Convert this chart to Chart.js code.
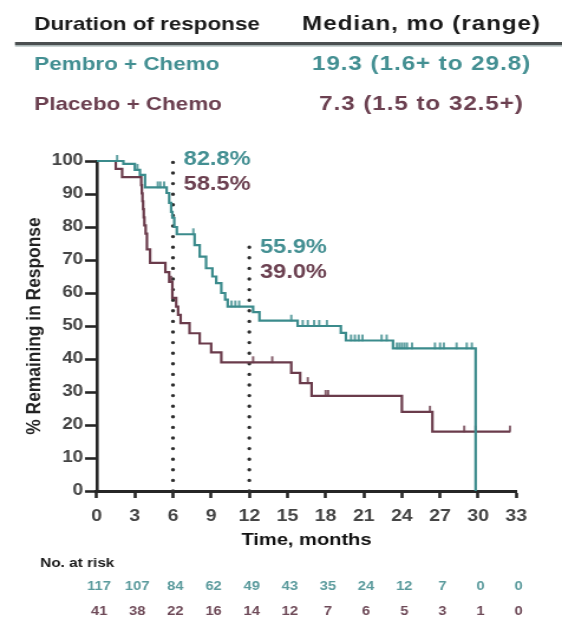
<!DOCTYPE html>
<html>
<head>
<meta charset="utf-8">
<title>Duration of response</title>
<script src="https://cdn.jsdelivr.net/npm/chart.js@4.4.1/dist/chart.umd.min.js"></script>
<style>
  html, body { margin: 0; padding: 0; background: #fff; overflow: hidden; }
  /* the artwork uses a horizontally widened sans face; emulate it with a uniform x-stretch */
  #stage { position: relative; width: 476px; height: 624px; transform: scaleX(1.1807); transform-origin: 0 0; }
  #km { display: block; }
</style>
</head>
<body>
<div id="stage"><canvas id="km" width="476" height="624"></canvas></div>
<script>
// ---- data -------------------------------------------------------------
const monthTicks = [0, 3, 6, 9, 12, 15, 18, 21, 24, 27, 30, 33];
const percentTicks = [0, 10, 20, 30, 40, 50, 60, 70, 80, 90, 100];

const armNames = ['Pembro + Chemo', 'Placebo + Chemo'];
const medianText = ['19.3 (1.6+ to 29.8)', '7.3 (1.5 to 32.5+)'];

// Kaplan–Meier steps: time (months) and % remaining in response after each event
const pembroTimes = [0, 2.1, 3.0, 3.4, 3.8, 5.5, 5.7, 5.85, 5.95, 6.1, 6.3, 7.7, 8.1, 8.6, 9.1, 9.4, 9.8, 10.1, 10.3, 12.3, 12.8, 15.8, 19.2, 19.6, 23.3, 29.8];
const pembroSurv  = [100, 99.1, 97.3, 95.8, 92.0, 90.3, 87.3, 84.6, 82.8, 80.0, 77.8, 74.5, 71.0, 67.5, 65.0, 63.0, 60.0, 58.0, 55.9, 54.2, 51.6, 50.0, 47.9, 45.6, 43.2, 0];
const placeboTimes = [0, 1.5, 2.0, 3.5, 3.55, 3.6, 3.65, 3.7, 3.75, 3.85, 3.95, 4.2, 5.4, 5.7, 5.95, 6.25, 6.4, 6.6, 7.3, 8.1, 9.0, 9.8, 15.3, 16.0, 16.9, 24.0, 26.4, 32.5];
const placeboSurv  = [100, 97.6, 95.1, 92.7, 90.2, 87.8, 85.4, 82.9, 80.5, 78.0, 73.2, 69.1, 66.3, 63.4, 58.5, 55.9, 53.4, 50.9, 47.8, 44.7, 42.0, 39.0, 35.8, 32.7, 28.8, 24.0, 18.0, 18.0];

// censored observations (months)
const pembroCensored = [1.6, 3.2, 4.8, 5.0, 5.3, 7.6, 10.6, 10.9, 11.2, 15.3, 16.2, 16.6, 17.1, 17.5, 18.1, 20.0, 20.3, 20.6, 20.9, 22.4, 22.8, 23.6, 23.8, 24.0, 24.2, 24.4, 24.8, 26.6, 27.0, 27.3, 28.3, 29.1, 29.5];
const placeboCensored = [5.85, 12.3, 13.8, 16.6, 18.0, 18.2, 26.2, 28.9, 29.8, 32.5];

// landmark time points and the height of their dotted guides (% scale)
const landmarkMonths = [6, 12];
const landmarkTop = [102.5, 76];

// number at risk at each month tick
const pembroAtRisk  = [117, 107, 84, 62, 49, 43, 35, 24, 12, 7, 0, 0];
const placeboAtRisk = [41, 38, 22, 16, 14, 12, 7, 6, 5, 3, 1, 0];

// ---- styling ------------------------------------------------------------
const FONT = "'Liberation Sans', Arial, Helvetica, sans-serif";
const TEAL = '#3b8b8c';
const TEAL_TEXT = '#438f92';
const MAROON = '#6a3b4b';
const MAROON_TEXT = '#6b4050';
const INK = '#262626';
const STAGE_W = 476;

Chart.defaults.font.family = FONT;

function survivalAt(times, surv, t) {
  let v = surv[0];
  for (let i = 0; i < times.length; i++) if (times[i] <= t) v = surv[i];
  return v;
}
function toPoints(times, surv) {
  return times.map((t, i) => ({ x: t, y: surv[i] }));
}
function censorPoints(cens, times, surv) {
  return cens.map(t => ({ x: t, y: survivalAt(times, surv, t) }));
}
// small upright tick used for censored observations
function tickGlyph(color) {
  const c = document.createElement('canvas');
  c.width = 4; c.height = 14;
  const g = c.getContext('2d');
  g.strokeStyle = color; g.lineWidth = 1.6;
  g.beginPath(); g.moveTo(2, 1); g.lineTo(2, 7.5); g.stroke();
  return c;
}
function landmarkLine(i) {
  return {
    data: [{ x: landmarkMonths[i], y: 0 }, { x: landmarkMonths[i], y: landmarkTop[i] }],
    borderColor: '#2e2e2e', borderWidth: 3.4, borderDash: [0, 10.6], borderCapStyle: 'round',
    pointRadius: 0, clip: false, fill: false
  };
}

// header, landmark percentages and the number-at-risk table
const overlay = {
  id: 'overlay',
  afterDraw(chart) {
    const { ctx } = chart;
    const xs = chart.scales.x, ys = chart.scales.y;
    ctx.save();

    // header table: left column names, right column medians
    const left = `bold 19px ${FONT}`, right = `bold 20.5px ${FONT}`, colX = 357;
    const writeLeft = (txt, y) => { ctx.font = left; ctx.letterSpacing = '0px'; ctx.textAlign = 'left'; ctx.fillText(txt, 29, y); };
    const writeRight = (txt, y) => { ctx.font = right; ctx.letterSpacing = '0.8px'; ctx.textAlign = 'center'; ctx.fillText(txt, colX, y); };
    ctx.textBaseline = 'alphabetic';
    ctx.fillStyle = '#1a1a1a';
    writeLeft('Duration of response', 30);
    writeRight('Median, mo (range)', 30);
    ctx.fillStyle = '#4b4f50';
    ctx.fillRect(12.7, 42, STAGE_W, 3);
    ctx.fillStyle = '#a9b6b6';
    ctx.fillRect(12.7, 45, STAGE_W, 1.6);

    ctx.fillStyle = TEAL_TEXT;
    writeLeft(armNames[0], 70);
    writeRight(medianText[0], 70);
    ctx.fillStyle = MAROON_TEXT;
    writeLeft(armNames[1], 110);
    writeRight(medianText[1], 110);
    ctx.letterSpacing = '0px';

    // landmark percentages
    ctx.font = `bold 20px ${FONT}`;
    ctx.textAlign = 'left';
    ctx.textBaseline = 'middle';
    landmarkMonths.forEach((m, i) => {
      const x = xs.getPixelForValue(m) + 9;
      const top = ys.getPixelForValue(landmarkTop[i]);
      ctx.fillStyle = TEAL_TEXT;
      ctx.fillText(survivalAt(pembroTimes, pembroSurv, m).toFixed(1) + '%', x, top + 7);
      ctx.fillStyle = MAROON_TEXT;
      ctx.fillText(survivalAt(placeboTimes, placeboSurv, m).toFixed(1) + '%', x, top + 32);
    });

    // number at risk
    ctx.font = `bold 13px ${FONT}`;
    ctx.fillStyle = '#1a1a1a';
    ctx.textAlign = 'left';
    ctx.fillText('No. at risk', 34, 563);
    ctx.font = `bold 12.5px ${FONT}`;
    ctx.textAlign = 'center';
    monthTicks.forEach((m, i) => {
      const x = xs.getPixelForValue(m);
      ctx.fillStyle = '#5a9a9c';
      ctx.fillText(String(pembroAtRisk[i]), x + 2, 587);
      ctx.fillStyle = '#6e4a58';
      ctx.fillText(String(placeboAtRisk[i]), x + 2, 612);
    });
    ctx.restore();
  }
};

new Chart(document.getElementById('km'), {
  type: 'line',
  data: {
    datasets: [
      { label: armNames[0], data: toPoints(pembroTimes, pembroSurv), stepped: 'before',
        borderColor: TEAL, borderWidth: 2.2, pointRadius: 0, fill: false, clip: 8 },
      { label: armNames[1], data: toPoints(placeboTimes, placeboSurv), stepped: 'before',
        borderColor: MAROON, borderWidth: 2.2, pointRadius: 0, fill: false, clip: 8 },
      { label: 'censored', data: censorPoints(pembroCensored, pembroTimes, pembroSurv), showLine: false,
        pointStyle: tickGlyph(TEAL), pointRadius: 4, clip: 8 },
      { label: 'censored', data: censorPoints(placeboCensored, placeboTimes, placeboSurv), showLine: false,
        pointStyle: tickGlyph(MAROON), pointRadius: 4, clip: 8 },
      landmarkLine(0),
      landmarkLine(1)
    ]
  },
  options: {
    responsive: false,
    animation: false,
    events: [],
    layout: { padding: { top: 161, left: 0, right: 38.7, bottom: 73 } },
    plugins: { legend: { display: false }, tooltip: { enabled: false } },
    scales: {
      x: {
        type: 'linear', min: monthTicks[0], max: monthTicks[monthTicks.length - 1],
        afterBuildTicks: s => { s.ticks = monthTicks.map(v => ({ value: v })); },
        afterFit: s => { s.height = 60; s.paddingLeft = 0; s.paddingRight = 0; },
        grid: { display: true, drawOnChartArea: false, drawTicks: true, tickLength: 7, tickWidth: 2.6, tickColor: INK },
        border: { display: true, color: INK, width: 3 },
        ticks: { autoSkip: false, maxRotation: 0, padding: 8.5, color: '#444', font: { size: 16.5, weight: 'bold' } },
        title: { display: true, text: 'Time, months', color: '#111', padding: { top: 0, bottom: 0 },
                 font: { size: 17, weight: 'bold' } }
      },
      y: {
        type: 'linear', min: percentTicks[0], max: percentTicks[percentTicks.length - 1],
        afterBuildTicks: s => { s.ticks = percentTicks.map(v => ({ value: v })); },
        afterFit: s => { s.width = 81.9; s.paddingTop = 0; s.paddingBottom = 0; },
        grid: { display: true, drawOnChartArea: false, drawTicks: true, tickLength: 9.9, tickWidth: 2.6, tickColor: INK },
        border: { display: true, color: INK, width: 2.6 },
        ticks: { padding: 1.5, color: '#444', font: { size: 16, weight: 'bold' } },
        title: { display: true, text: '% Remaining in Response', color: '#222', padding: { top: 19, bottom: 0 },
                 font: { size: 17.4, weight: 'bold' } }
      }
    }
  },
  plugins: [overlay]
});
</script>
</body>
</html>
